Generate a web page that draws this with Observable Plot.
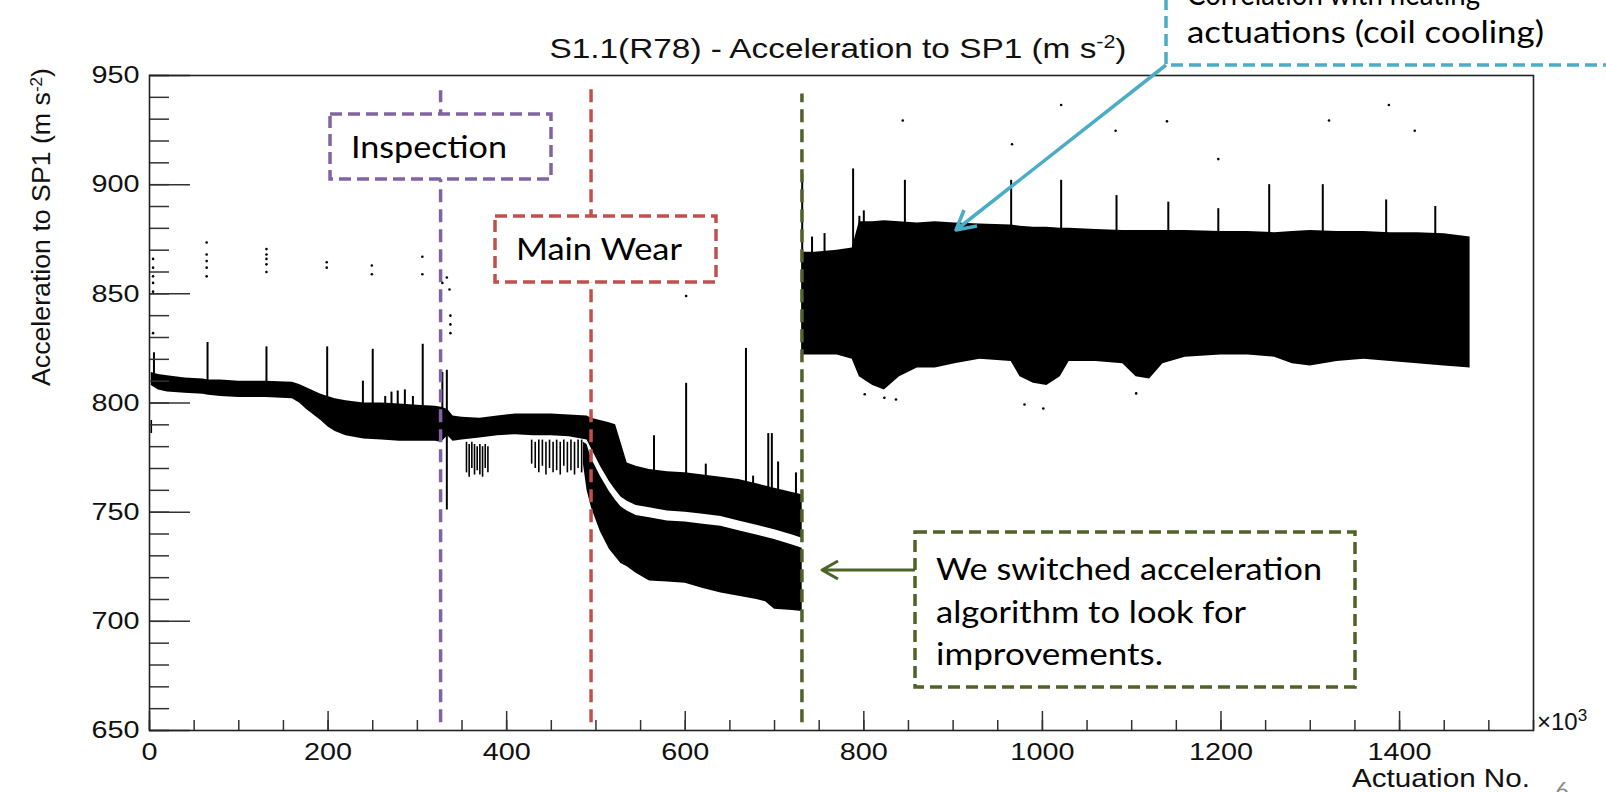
<!DOCTYPE html>
<html><head><meta charset="utf-8">
<script src="https://cdn.jsdelivr.net/npm/d3@7"></script>
<script src="https://cdn.jsdelivr.net/npm/@observablehq/plot@0.6"></script>
<style>
html,body{margin:0;padding:0;background:#fff;}
#wrap{position:relative;width:1606px;height:792px;overflow:hidden;background:#fff;}
</style></head><body><div id="wrap"></div>
<script>
// ---------- axis ticks ----------
const xMajor = [0, 200, 400, 600, 800, 1000, 1200, 1400];
const yMajor = [650, 700, 750, 800, 850, 900, 950];

// ---------- upper band (before algorithm switch) ----------
const upperX  = [2,10,20,40,60,66,80,100,130,160,168,176,184,192,200,208,220,240,260,280,300,320,327,334,340,350,370,390,410,430,450,470,490,495,505,515,522,528,535,545,560,580,600,620,640,660,680,700,720,731];
const upperHi = [814,813,812.5,811.5,811,810.5,810.5,810,810,809.5,808.5,807,805.5,804,803,802,801,800,800,799.5,799,798.5,798,797,794,793.5,793,794,795,795,795,794.5,794,793,792,791,790,782,772.5,771,769.5,768.5,768,767,766,765,763,761,759,758];
const upperLo = [808,806,805,804.5,804,803.5,803,802.5,802.5,802,800,797,794.5,792,789,787,785,783.5,783,782.5,782.5,782.5,782,785,782.5,783,784,785,785.5,785,785,784.5,783,779,771,764,760,757,755,753,752,750.5,750,749,748,746,744,742,739.5,738];

// ---------- lower band (worn branch) ----------
const lowerX  = [486,490,495,505,515,522,528,535,545,560,580,600,620,640,660,680,690,700,720,731];
const lowerHi = [782,781,774.5,766.5,759.5,755.5,752.5,750.5,748.5,747.5,746,745.5,744.5,743.5,741.5,739.5,738.5,737.5,735,733.5];
const lowerLo = [772,760,752,741,733,729.5,726.5,725,722,718.5,718,717.5,715,713,711.5,710,709,705.5,705,704.5];

// ---------- band after the algorithm switch ----------
const rightX  = [731,745,770,787,795,810,823,840,860,880,902,930,965,975,990,1005,1020,1030,1060,1090,1105,1120,1135,1160,1200,1230,1260,1280,1300,1330,1360,1390,1420,1450,1479];
const rightLo = [822,822,822,820,812,808,806,812,816,816,818,820,819,812,809,808,812,819,819,818,812,811,818,821,822,822,821,818,817,819,820,819,818,817,816];
const rightHi = [869,869,870,871,883,883,883.5,883,882.5,883,882.5,882,881.5,881,880.5,880.5,880,880,879.5,879,879,879,879,879,878.5,878.5,878,878.5,879,878.5,878.5,878,878,877.5,876];

// ---------- spikes ----------
const spikeX  = [5,65,131,199,239,250,264,271,278,286,295,306,328,333,565,601,623,668,676,693,697,704,724,731,742,756,788,795,800,846,965,1021,1083,1141,1197,1254,1314,1385,1440];
const spikeY1 = [808,804,803,790,790,785,790,790,790,790,790,785,785,751,760,760,760,758,755,755,755,755,755,822,865,865,865,870,870,870,870,870,870,870,870,870,870,870,870];
const spikeY2 = [823,827.7,825.7,825.7,810,824.6,803,805,805.5,806,803,826.9,814,815,785,809,772,825,766.5,786,786,773,768,905,876,877.6,907.2,885.5,888,902,902,902,895,892,889,900,900,893,890];

// ---------- streaky clusters below the band ----------
const streakX  = [2,355,358,361,364,367,370,373,376,379,428,432,436,440,444,448,452,456,460,464,468,472,476,480,484];
const streakY1 = [786,768,766,770,767,769,767,766,770,768,772,770,768,771,767,770,768,769,767,771,768,769,767,770,768];
const streakY2 = [792,782,781,782,781,780,781,780,781,780,783,782,783,783,782,783,782,783,782,783,782,783,782,783,783];

// ---------- isolated points ----------
const dotX = [4,4,4,4,4,4,64,64,64,64,64,131,131,131,131,131,198.5,198.5,249,249,305.6,305.6,328,333,336,337,337,337,601,843.6,966,1021,1082,1139.5,1197,1321,1388,1417,801,823,836,980,1001,1105];
const dotY = [866,862,858,855,851,832,873.5,868,865,862,858,870.5,868,866,863.5,860,864.5,862,863,859,867,859,855,857.5,852,840,836,832,849,929.4,918.5,936.5,924.7,929,911.7,929.4,936.5,924.7,804,802.4,801.6,799.3,797.5,804.4];

// ---------- events ----------
const eventX      = [326, 494.5, 730.7];
const eventTop    = [943, 943.5, 941.5];
const eventBottom = [653.5, 653.5, 653.5];
const eventColor  = ["#8064A2", "#C0504D", "#4F6228"];

// build tables
const upper = upperX.map((x, i) => ({x, lo: upperLo[i], hi: upperHi[i]}));
const lower = lowerX.map((x, i) => ({x, lo: lowerLo[i], hi: lowerHi[i]}));
const right = rightX.map((x, i) => ({x, lo: rightLo[i], hi: rightHi[i]}));
const spikes = spikeX.map((x, i) => ({x, y1: spikeY1[i], y2: spikeY2[i]}));
const streaks = streakX.map((x, i) => ({x, y1: streakY1[i], y2: streakY2[i]}));
const dots = dotX.map((x, i) => ({x, y: dotY[i]}));
const events = eventX.map((x, i) => ({x, y1: eventBottom[i], y2: eventTop[i], c: eventColor[i]}));
const xMinor = d3.range(0, 1551, 50);
const yMinor = d3.range(650, 951, 10);

const W = 1606, H = 792, ML = 149, MR = 73, MT = 75, MB = 62;
const FW = W - ML - MR, FH = H - MT - MB;
const FONT = "'Liberation Sans', Arial, Helvetica, sans-serif";

const chart = Plot.plot({
  width: W, height: H,
  marginLeft: ML, marginRight: MR, marginTop: MT, marginBottom: MB,
  x: {domain: [0, 1550]},
  y: {domain: [650, 950]},
  style: {fontFamily: FONT, fontSize: "24px", background: "#fff", color: "#111"},
  marks: [
    Plot.areaY(upper, {x: "x", y1: "lo", y2: "hi", fill: "#000"}),
    Plot.areaY(lower, {x: "x", y1: "lo", y2: "hi", fill: "#000"}),
    Plot.areaY(right, {x: "x", y1: "lo", y2: "hi", fill: "#000"}),
    Plot.ruleX(streaks, {x: "x", y1: "y1", y2: "y2", stroke: "#000", strokeWidth: 1.6}),
    Plot.ruleX(spikes, {x: "x", y1: "y1", y2: "y2", stroke: "#000", strokeWidth: 2}),
    Plot.dot(dots, {x: "x", y: "y", r: 1.3, fill: "#000", stroke: null}),
    Plot.tickY(yMinor, {y: d => d, insetRight: FW - 20, stroke: "#333", strokeWidth: 1.5}),
    Plot.tickY(yMajor, {y: d => d, insetRight: FW - 41, stroke: "#333", strokeWidth: 1.5}),
    Plot.tickX(xMinor, {x: d => d, insetTop: FH - 10, stroke: "#333", strokeWidth: 1.5}),
    Plot.tickX(xMajor, {x: d => d, insetTop: FH - 19, stroke: "#333", strokeWidth: 1.5}),
    Plot.frame({stroke: "#222", strokeWidth: 1.6}),
    Plot.ruleX(events, {x: "x", y1: "y1", y2: "y2", stroke: "c", strokeWidth: 3.5, strokeDasharray: "13,7"}),
    Plot.axisY({ticks: yMajor, tickSize: 0, tickPadding: 10, tickFormat: d => String(d), label: null, fontSize: 24}),
    Plot.axisX({ticks: xMajor, tickSize: 0, tickPadding: 12, tickFormat: d => String(d), label: null, fontSize: 24})
  ]
});
document.getElementById("wrap").append(chart);
const svg = d3.select(chart);

function stretchTo(el, target) {
  el.setAttribute("textLength", target);
  el.setAttribute("lengthAdjust", "spacingAndGlyphs");
}
function stretchBy(sel, k) {
  sel.each(function () { stretchTo(this, this.getComputedTextLength() * k); });
}
stretchBy(svg.selectAll('[aria-label="y-axis tick label"] text'), 1.2);
stretchBy(svg.selectAll('[aria-label="x-axis tick label"] text'), 1.2);

// ---------- titles ----------
const t = svg.append("text").attr("x", 838).attr("y", 58).attr("text-anchor", "middle")
  .attr("font-family", FONT).attr("font-size", 28).attr("fill", "#111");
t.append("tspan").text("S1.1(R78) - Acceleration to SP1 (m s");
t.append("tspan").attr("baseline-shift", "super").attr("font-size", 18).text("-2");
t.append("tspan").text(")");
stretchTo(t.node(), 577);

const yl = svg.append("text").attr("transform", "translate(50,68) rotate(-90)").attr("text-anchor", "end")
  .attr("font-family", FONT).attr("font-size", 25).attr("fill", "#111");
yl.append("tspan").text("Acceleration to SP1 (m s");
yl.append("tspan").attr("baseline-shift", "super").attr("font-size", 16).text("-2");
yl.append("tspan").text(")");
stretchTo(yl.node(), 318);

const xl = svg.append("text").attr("x", 1530).attr("y", 787).attr("text-anchor", "end")
  .attr("font-family", FONT).attr("font-size", 25).attr("fill", "#111").text("Actuation No.");
stretchTo(xl.node(), 178);

const ex = svg.append("text").attr("x", 1537).attr("y", 730).attr("text-anchor", "start")
  .attr("font-family", FONT).attr("font-size", 24).attr("fill", "#111");
ex.append("tspan").text("\u00d710");
ex.append("tspan").attr("baseline-shift", "super").attr("font-size", 17).text("3");

// ---------- annotation overlay ----------
const ANN = "Lato, 'Open Sans', sans-serif";
function box(x, y, w, h, color, dash) {
  svg.append("rect").attr("x", x).attr("y", y).attr("width", w).attr("height", h)
    .attr("fill", "#fff").attr("stroke", color).attr("stroke-width", 3.5)
    .attr("stroke-dasharray", dash);
}
function label(x, y, s, len, size) {
  const el = svg.append("text").attr("x", x).attr("y", y).attr("text-anchor", "start")
    .attr("font-family", ANN).attr("font-size", size || 30).attr("fill", "#000").text(s);
  if (len) stretchTo(el.node(), len);
}
box(330, 114, 221, 65, "#8064A2", "12,6");
label(351, 158, "Inspection", 156);
box(495, 216, 221, 66, "#C0504D", "12,6");
label(516, 260, "Main Wear", 166);
box(915, 532, 440, 155, "#4F6228", "12,6");
label(936, 580, "We switched acceleration", 386);
label(936, 623, "algorithm to look for", 310);
label(936, 665, "improvements.", 227);
// green arrow
svg.append("path").attr("d", "M915,570 L822,570 M838,561 L822,570 L838,579")
  .attr("fill", "none").attr("stroke", "#4F6228").attr("stroke-width", 3).attr("stroke-linejoin", "round");
// cyan box
box(1166, -20, 470, 85, "#4BACC6", "12,6");
label(1187, 5, "Correlation with heating", 293);
label(1187, 43, "actuations (coil cooling)", 357);
svg.append("path").attr("d", "M1166,65 L956,230 M964,210 L956,230 L977,226")
  .attr("fill", "none").attr("stroke", "#4BACC6").attr("stroke-width", 3.5).attr("stroke-linejoin", "round");
// page number
svg.append("text").attr("x", 1555).attr("y", 799).attr("text-anchor", "start").attr("font-family", ANN).attr("font-size", 24)
  .attr("fill", "#8c8c8c").text("6");
</script></body></html>
